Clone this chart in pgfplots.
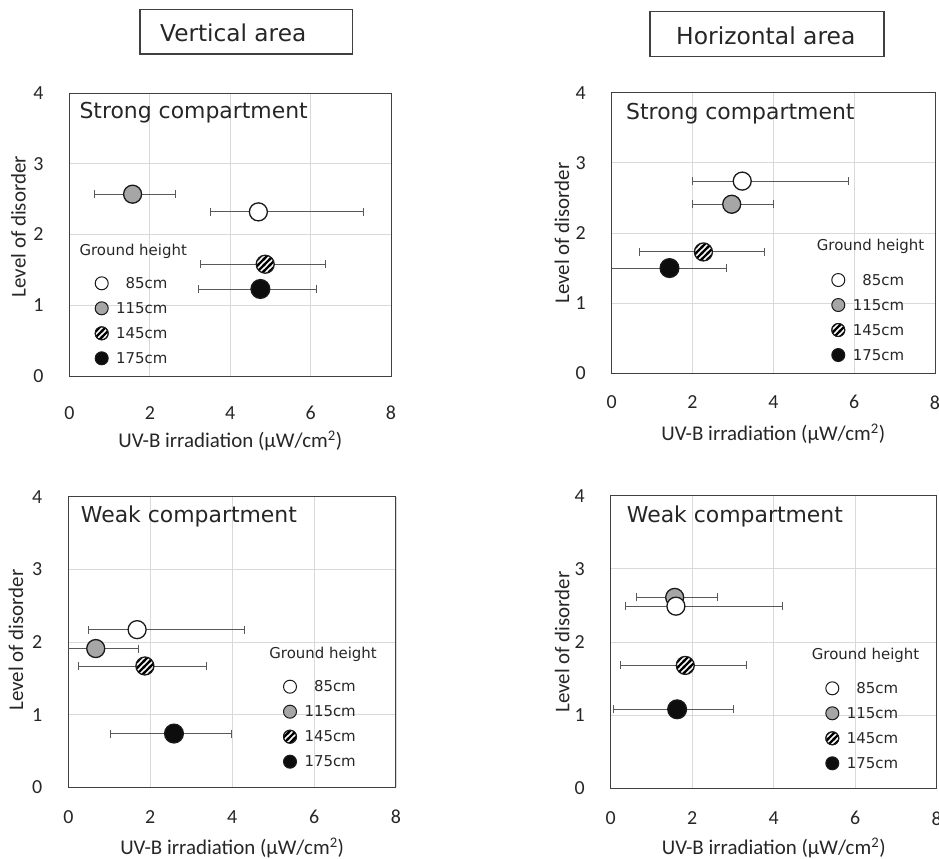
\documentclass[border=0pt]{standalone}
\usepackage{fontspec}
\setmainfont{DejaVu Sans}
\newfontfamily\calibri{Carlito}
\usepackage{pgfplots}
\pgfplotsset{compat=1.18}
\usetikzlibrary{patterns}

\definecolor{gridc}{HTML}{D9D9D9}
\definecolor{framec}{HTML}{404040}
\definecolor{errc}{HTML}{595959}
\definecolor{markc}{HTML}{1A1A1A}
\definecolor{grayc}{HTML}{A6A6A6}
\definecolor{blackc}{HTML}{0D0D0D}
\definecolor{txtc}{HTML}{262626}

\pgfdeclarepatternformonly{bigstripes}{\pgfqpoint{-2bp}{-2bp}}{\pgfqpoint{8bp}{8bp}}{\pgfqpoint{6bp}{6bp}}{%
  \pgfsetlinewidth{2.2bp}%
  \pgfpathmoveto{\pgfqpoint{-1bp}{-1bp}}%
  \pgfpathlineto{\pgfqpoint{7bp}{7bp}}%
  \pgfusepath{stroke}%
}
\pgfdeclareplotmark{hcirc}{%
  \pgfpathcircle{\pgfpointorigin}{\pgfplotmarksize}%
  \pgfsetfillcolor{white}%
  \pgfusepathqfill
  \pgfpathcircle{\pgfpointorigin}{\pgfplotmarksize}%
  \pgfsetfillpattern{bigstripes}{black}%
  \pgfusepathqfillstroke
}

\pgfplotsset{
  panel/.style={
    scale only axis,
    xmin=0, xmax=8, ymin=0, ymax=4,
    xtick={0,2,4,6,8}, ytick={0,1,2,3,4},
    xmajorgrids, ymajorgrids,
    major grid style={draw=gridc, line width=0.9bp},
    axis line style={draw=framec, line width=1bp},
    major tick length=0pt, tick style={draw=none},
    ticklabel style={font=\calibri\fontsize{20}{24}\selectfont, text=txtc},
    /pgf/number format/assume math mode=true,
    yticklabel style={anchor=center, xshift=-31bp},
    xlabel={UV-B irradiation (µW/cm\textsuperscript{2})},
    ylabel={Level of disorder},
    label style={font=\calibri\fontsize{21}{25}\selectfont, text=txtc},
    xlabel style={anchor=center},
    ylabel style={anchor=center},
    error bars/x dir=both, error bars/x explicit,
    error bars/error bar style={draw=errc, line width=0.9bp},
    error bars/error mark options={draw=errc, line width=0.9bp, mark size=4bp, rotate=90},
    legend style={draw=none, fill=none, inner sep=0pt, outer sep=0pt, anchor=north west,
      font=\fontsize{15}{18}\selectfont, text=txtc, row sep=11bp, column sep=7.5bp,
      nodes={inner sep=0pt, outer sep=0pt, text height=10bp, text depth=0bp, anchor=east}},
  },
  s85/.style={only marks, mark=*, mark size=9bp, mark options={draw=markc, fill=white, line width=1.3bp}, forget plot},
  s115/.style={only marks, mark=*, mark size=9bp, mark options={draw=markc, fill=grayc, line width=1.3bp}, forget plot},
  s145/.style={only marks, mark=hcirc, mark size=9bp, mark options={draw=markc, line width=1.3bp}, forget plot},
  s175/.style={only marks, mark=*, mark size=9.4bp, mark options={draw=markc, fill=blackc, line width=1.3bp}, forget plot},
}

\newcommand{\glegend}{%
  \addlegendimage{legend image code/.code={\draw[markc,line width=1bp,fill=white] (0,0) circle (6.5bp);}}
  \addlegendentry{85cm}
  \addlegendimage{legend image code/.code={\draw[markc,line width=1bp,fill=grayc] (0,0) circle (6.5bp);}}
  \addlegendentry{115cm}
  \addlegendimage{legend image code/.code={\draw[markc,line width=1bp,fill=white] (0,0) circle (6.5bp);\draw[markc,line width=1bp,pattern=bigstripes,pattern color=black] (0,0) circle (6.5bp);}}
  \addlegendentry{145cm}
  \addlegendimage{legend image code/.code={\draw[markc,line width=1bp,fill=blackc] (0,0) circle (6.5bp);}}
  \addlegendentry{175cm}
}

\begin{document}
\begin{tikzpicture}
\useasboundingbox (0,0) rectangle (939bp,-859bp);

% header boxes
\draw[framec, line width=1.2bp] (140bp,-9.3bp) rectangle (352.3bp,-54bp);
\node[anchor=base west, inner sep=0pt, font=\fontsize{23.3}{27}\selectfont, text=txtc] at (160bp,-41.7bp) {Vertical area};
\draw[framec, line width=1.2bp] (650bp,-11.7bp) rectangle (884bp,-56.7bp);
\node[anchor=base west, inner sep=0pt, font=\fontsize{23.5}{27}\selectfont, text=txtc] at (676bp,-44bp) {Horizontal area};

% Top-left: Vertical, strong
\begin{axis}[panel, at={(69.5bp,-376bp)}, anchor=south west, width=321.5bp, height=283bp,
  xticklabel style={anchor=center, yshift=-36.7bp},
  xlabel style={at={(axis description cs:0.5,-0.2297)}},
  ylabel style={at={(axis description cs:-0.1586,0.5276)}},
  legend style={at={(axis description cs:0.0784,0.3523)}}]
\addplot[s115] coordinates {(1.57,2.57) += (1.06,0) -= (0.94,0)};
\addplot[s85] coordinates {(4.70,2.32) += (2.62,0) -= (1.19,0)};
\addplot[s145] coordinates {(4.87,1.58) += (1.50,0) -= (1.62,0)};
\addplot[s175] coordinates {(4.75,1.23) += (1.39,0) -= (1.55,0)};
\glegend
\node[anchor=base west, inner sep=0pt, font=\fontsize{22}{26}\selectfont, text=txtc] at (axis description cs:0.0305,0.9106) {Strong compartment};
\node[anchor=west, inner sep=0pt, font=\fontsize{15}{18}\selectfont, text=txtc] at (axis description cs:0.0305,0.439) {Ground height};
\end{axis}

% Top-right: Horizontal, strong
\begin{axis}[panel, at={(611.7bp,-373.3bp)}, anchor=south west, width=323.3bp, height=280.6bp,
  xticklabel style={anchor=center, yshift=-29bp},
  xlabel style={at={(axis description cs:0.5,-0.2163)}},
  ylabel style={at={(axis description cs:-0.1537,0.5)}},
  legend style={at={(axis description cs:0.6792,0.3574)}}]
\addplot[s115] coordinates {(2.97,2.41) += (1.03,0) -= (0.96,0)};
\addplot[s85] coordinates {(3.23,2.74) += (2.62,0) -= (1.22,0)};
\addplot[s145] coordinates {(2.27,1.73) += (1.52,0) -= (1.58,0)};
\addplot[s175] coordinates {(1.43,1.50) += (1.41,0) -= (1.55,0)};
\glegend
\node[anchor=base west, inner sep=0pt, font=\fontsize{22}{26}\selectfont, text=txtc] at (axis description cs:0.0442,0.905) {Strong compartment};
\node[anchor=west, inner sep=0pt, font=\fontsize{15}{18}\selectfont, text=txtc] at (axis description cs:0.634,0.451) {Ground height};
\end{axis}

% Bottom-left: Vertical, weak
\begin{axis}[panel, at={(68.3bp,-787.3bp)}, anchor=south west, width=327.7bp, height=290.6bp,
  xticklabel style={anchor=center, yshift=-29.7bp},
  xlabel style={at={(axis description cs:0.5,-0.2089)}},
  ylabel style={at={(axis description cs:-0.160,0.507)}},
  legend style={at={(axis description cs:0.6552,0.3703)}}]
\addplot[s115] coordinates {(0.67,1.91) += (1.05,0) -= (0.95,0)};
\addplot[s85] coordinates {(1.68,2.17) += (2.63,0) -= (1.19,0)};
\addplot[s145] coordinates {(1.87,1.67) += (1.51,0) -= (1.63,0)};
\addplot[s175] coordinates {(2.58,0.74) += (1.40,0) -= (1.54,0)};
\glegend
\node[anchor=base west, inner sep=0pt, font=\fontsize{22}{26}\selectfont, text=txtc] at (axis description cs:0.0378,0.9105) {Weak compartment};
\node[anchor=west, inner sep=0pt, font=\fontsize{15}{18}\selectfont, text=txtc] at (axis description cs:0.613,0.4577) {Ground height};
\end{axis}

% Bottom-right: Horizontal, weak
\begin{axis}[panel, at={(610.7bp,-788.3bp)}, anchor=south west, width=326bp, height=292.6bp,
  xticklabel style={anchor=center, yshift=-30bp},
  xlabel style={at={(axis description cs:0.5,-0.204)}},
  ylabel style={at={(axis description cs:-0.149,0.5)}},
  legend style={at={(axis description cs:0.6583,0.3657)}}]
\addplot[s115] coordinates {(1.57,2.61) += (1.06,0) -= (0.95,0)};
\addplot[s85] coordinates {(1.60,2.49) += (2.62,0) -= (1.23,0)};
\addplot[s145] coordinates {(1.83,1.68) += (1.50,0) -= (1.60,0)};
\addplot[s175] coordinates {(1.63,1.08) += (1.38,0) -= (1.57,0)};
\glegend
\node[anchor=base west, inner sep=0pt, font=\fontsize{22}{26}\selectfont, text=txtc] at (axis description cs:0.049,0.9077) {Weak compartment};
\node[anchor=west, inner sep=0pt, font=\fontsize{15}{18}\selectfont, text=txtc] at (axis description cs:0.6166,0.4556) {Ground height};
\end{axis}
\end{tikzpicture}
\end{document}
